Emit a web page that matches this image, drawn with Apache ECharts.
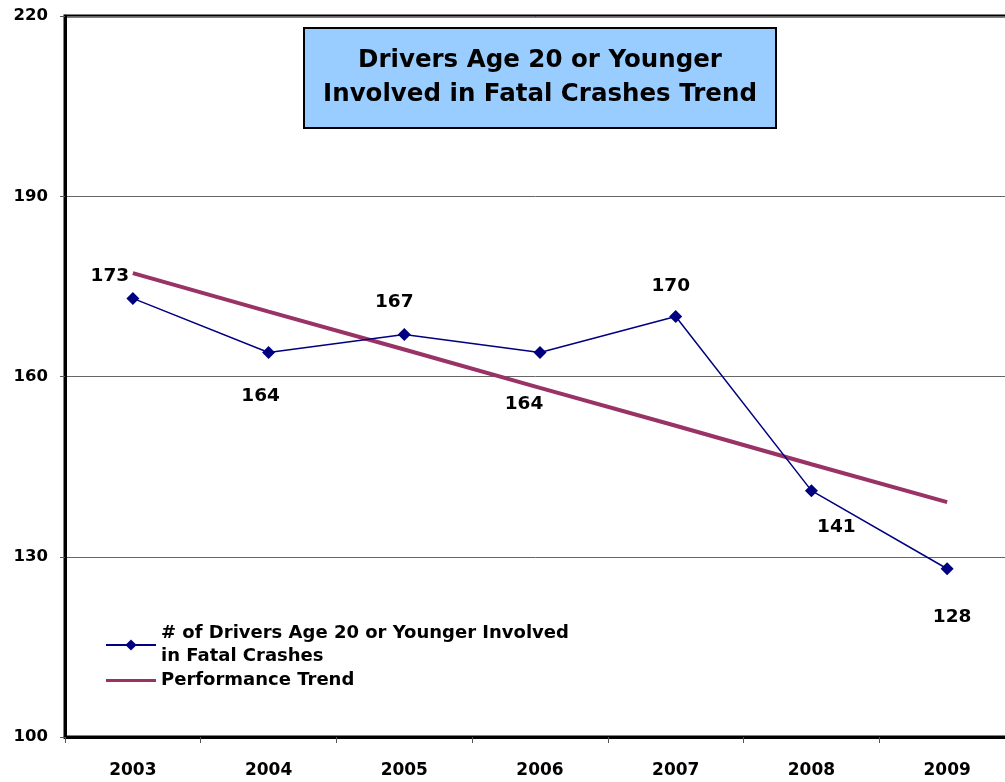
<!DOCTYPE html>
<html>
<head>
<meta charset="utf-8">
<script src="https://cdn.jsdelivr.net/npm/echarts@6/dist/echarts.min.js"></script>
<style>
html, body { margin: 0; padding: 0; background: #fff; }
#chart { width: 1005px; height: 782px; }
</style>
</head>
<body>
<div id="chart"></div>
<script>
var years = ['2003', '2004', '2005', '2006', '2007', '2008', '2009'];
var drivers = [173, 164, 167, 164, 170, 141, 128];
var trend = [177.2, 170.8, 164.5, 158.1, 151.8, 145.4, 139.1];
// label offsets from each point (px)
var labelOffsets = [[-23, -22], [-8, 44], [-10, -32], [-16, 52], [-5, -30], [25, 37], [5, 48]];

var FONT = 'DejaVu Sans, Arial, sans-serif';
var myChart = echarts.init(document.getElementById('chart'));

var driverData = drivers.map(function (v, i) {
	return {
		value: v,
		label: { offset: labelOffsets[i] }
	};
});

var option = {
	animation: false,
	textStyle: { fontFamily: FONT },
	grid: {
		left: 65,
		width: 950,
		top: 16,
		bottom: 45,
		outerBoundsMode: 'none',
		show: true,
		borderColor: '#000',
		borderWidth: 3,
		backgroundColor: '#fff'
	},
	graphic: [{
		type: 'group',
		left: 303,
		top: 27,
		children: [{
			type: 'rect',
			shape: { x: 0, y: 0, width: 472, height: 100 },
			style: { fill: '#99CCFF', stroke: '#000', lineWidth: 2 }
		}, {
			type: 'text',
			x: 236,
			y: 50,
			style: {
				text: 'Drivers Age 20 or Younger\nInvolved in Fatal Crashes Trend',
				fontSize: 24.5,
				fontWeight: 'bold',
				lineHeight: 34,
				align: 'center',
				verticalAlign: 'middle',
				fill: '#000',
				fontFamily: FONT
			}
		}]
	}],
	legend: {
		orient: 'vertical',
		left: 105,
		top: 622,
		itemWidth: 50,
		itemHeight: 14,
		itemGap: 1,
		padding: 0,
		textStyle: {
			fontSize: 18,
			fontWeight: 'bold',
			color: '#000',
			lineHeight: 23
		},
		data: [
			'# of Drivers Age 20 or Younger Involved\nin Fatal Crashes',
			{ name: 'Performance Trend', icon: 'path://M0,0H50V3H0Z' }
		]
	},
	xAxis: {
		type: 'category',
		data: years,
		boundaryGap: true,
		axisLine: { lineStyle: { color: '#000', width: 3 } },
		axisTick: { show: true, length: 6, lineStyle: { color: '#555', width: 1 } },
		axisLabel: { color: '#000', fontSize: 17, fontWeight: 'bold', margin: 25 },
		splitLine: { show: false }
	},
	yAxis: {
		type: 'value',
		min: 100,
		max: 220,
		interval: 30,
		axisLine: { show: true, lineStyle: { color: '#000', width: 3 } },
		axisTick: { show: true, length: 5, lineStyle: { color: '#555', width: 1 } },
		axisLabel: { color: '#000', fontSize: 16.5, fontWeight: 'bold', margin: 17 },
		splitLine: { show: true, lineStyle: { color: '#666', width: 1 } }
	},
	series: [{
		name: '# of Drivers Age 20 or Younger Involved\nin Fatal Crashes',
		type: 'line',
		data: driverData,
		color: '#000080',
		symbol: 'diamond',
		symbolSize: 13,
		lineStyle: { color: '#000080', width: 1.5 },
		itemStyle: { color: '#000080' },
		z: 3,
		label: {
			show: true,
			position: 'inside',
			color: '#000',
			fontSize: 18.5,
			fontWeight: 'bold'
		}
	}, {
		name: 'Performance Trend',
		type: 'line',
		data: trend,
		color: '#993366',
		symbol: 'none',
		showSymbol: false,
		lineStyle: { color: '#993366', width: 4 },
		z: 2
	}]
};

myChart.setOption(option);
</script>
</body>
</html>
